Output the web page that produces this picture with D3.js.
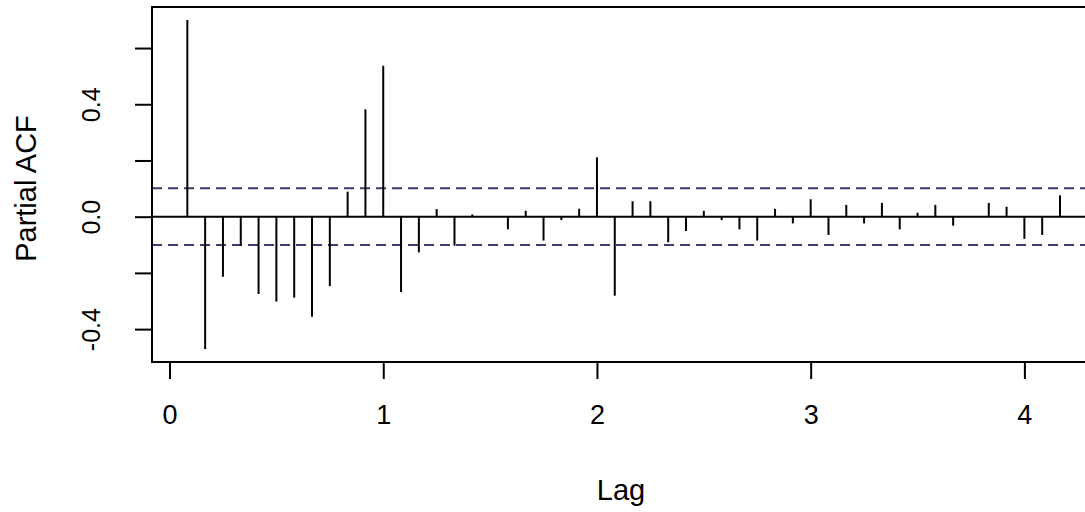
<!DOCTYPE html>
<html>
<head>
<meta charset="utf-8">
<script src="https://cdn.jsdelivr.net/npm/d3@7"></script>
<style>
  body { margin: 0; background: #fff; }
  text { font-family: "Liberation Sans", Arial, sans-serif; fill: #000; }
</style>
</head>
<body>
<svg id="chart" width="1085" height="512"></svg>
<script>

// lag in months (series frequency 12)
var lagMonths = d3.range(1, 51);

var pacf = [
    0.700, -0.471, -0.214, -0.103, -0.275, -0.302, -0.288, -0.356, -0.247, 0.089,
    0.382, 0.537, -0.268, -0.127, 0.027, -0.103, 0.008, 0.002, -0.045, 0.021,
    -0.085, -0.012, 0.028, 0.211, -0.281, 0.055, 0.055, -0.091, -0.051, 0.021,
    -0.012, -0.045, -0.085, 0.028, -0.024, 0.062, -0.065, 0.042, -0.024, 0.049,
    -0.045, 0.014, 0.042, -0.032, 0.002, 0.049, 0.035, -0.079, -0.065, 0.076
];

var ciBound = 0.101;

var xTicks = [0, 1, 2, 3, 4];
var yTicks = [-0.4, -0.2, 0, 0.2, 0.4, 0.6];
var yLabels = ["-0.4", "", "0.0", "", "0.4", ""];

var data = lagMonths.map((m, i) => ({lag: m / 12, v: pacf[i]}));

var m = {left: 152, right: 1090, top: 7, bottom: 362};

var x = d3.scaleLinear().domain([-0.082, 4.307]).range([m.left, m.right]);
var y = d3.scaleLinear().domain([-0.517, 0.746]).range([m.bottom, m.top]);

var svg = d3.select("#chart");

// confidence band
svg.selectAll(".ci")
    .data([ciBound, -ciBound])
    .enter().append("line")
    .attr("class", "ci")
    .attr("x1", m.left).attr("x2", m.right)
    .attr("y1", d => y(d)).attr("y2", d => y(d))
    .attr("stroke", "#3c3c70")
    .attr("stroke-width", 2)
    .attr("stroke-dasharray", "10,6");

// zero line
svg.append("line")
    .attr("x1", m.left).attr("x2", m.right)
    .attr("y1", y(0)).attr("y2", y(0))
    .attr("stroke", "#000")
    .attr("stroke-width", 2);

svg.selectAll(".spike")
    .data(data)
    .enter().append("line")
    .attr("class", "spike")
    .attr("x1", d => x(d.lag)).attr("x2", d => x(d.lag))
    .attr("y1", y(0)).attr("y2", d => y(d.v))
    .attr("stroke", "#000")
    .attr("stroke-width", 2);

// box
svg.append("rect")
    .attr("x", m.left).attr("y", m.top)
    .attr("width", m.right - m.left).attr("height", m.bottom - m.top)
    .attr("fill", "none")
    .attr("stroke", "#000")
    .attr("stroke-width", 2);

var xAxis = svg.append("g")
    .attr("transform", "translate(0," + m.bottom + ")")
    .call(d3.axisBottom(x).tickValues(xTicks).tickSize(17).tickPadding(26).tickFormat(d3.format("d")));

var yAxis = svg.append("g")
    .attr("transform", "translate(" + m.left + ",0)")
    .call(d3.axisLeft(y).tickValues(yTicks).tickSize(17).tickFormat((d, i) => yLabels[i]));

[xAxis, yAxis].forEach(function(a){
    a.attr("font-size", 25).attr("font-family", "Liberation Sans, Arial, sans-serif");
    a.select(".domain").remove();
    a.selectAll("line").attr("stroke", "#000").attr("stroke-width", 2);
});

xAxis.attr("font-size", 27);

// y tick labels run along the axis like R's default
yAxis.selectAll(".tick text")
    .attr("x", null).attr("dy", null)
    .attr("text-anchor", "middle")
    .attr("transform", "translate(-52,0) rotate(-90)");

svg.append("text")
    .attr("x", (m.left + m.right) / 2)
    .attr("y", 500)
    .attr("text-anchor", "middle")
    .attr("font-size", 29)
    .text("Lag");

svg.append("text")
    .attr("transform", "translate(36," + ((m.top + m.bottom) / 2 + 4) + ") rotate(-90)")
    .attr("text-anchor", "middle")
    .attr("font-size", 29)
    .text("Partial ACF");

</script>
</body>
</html>
